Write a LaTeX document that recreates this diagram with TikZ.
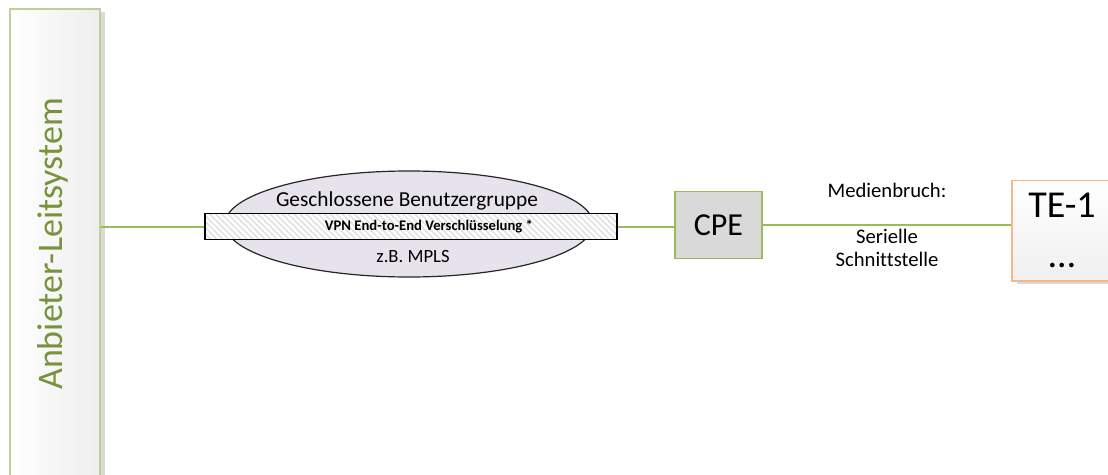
\documentclass[tikz,border=0pt]{standalone}
\usepackage{fontspec}
\setmainfont{Carlito}[Ligatures=CommonOff]
\usetikzlibrary{shapes.geometric,patterns.meta,shadows}
\definecolor{olivgruen}{HTML}{9BBB59}
\definecolor{hellgruen}{HTML}{BCD09A}
\definecolor{textgruen}{HTML}{77933C}
\definecolor{hellorange}{HTML}{F5B888}
\definecolor{lavendel}{HTML}{E6E3EC}
\tikzset{
  verbindung/.style={draw=olivgruen, line width=1.5pt},
  kasten/.style={rectangle, inner sep=0pt},
  schatten/.style={drop shadow={shadow xshift=3.5pt, shadow yshift=-2.5pt, fill=black!15, opacity=1}}
}
\begin{document}
\begin{tikzpicture}[x=0.75pt, y=-0.75pt]
                \useasboundingbox (0,0) rectangle (1108,475);
                \clip (0,0) rectangle (1108,475);
                % Leitsystem
                \node[kasten, schatten, draw=hellgruen, line width=1pt, left color=white, right color=black!7,
                      minimum width=67.5pt, minimum height=361pt] (ls) at (55,249.5) {};
                \node[rotate=90, text=textgruen, font=\fontsize{27}{32}\selectfont] (lstext) at (53,244) {Anbieter-Leitsystem};
                % Benutzergruppe
                \node[ellipse, draw=black!85, line width=0.9pt, fill=lavendel,
                      minimum width=276pt, minimum height=79.5pt] (bg) at (409,224) {};
                \node[font=\fontsize{16}{19}\selectfont] (bgtext) at (407,201) {Geschlossene Benutzergruppe};
                \node[font=\fontsize{14}{16}\selectfont] (mpls) at (413,257) {z.B. MPLS};
                % VPN
                \node[kasten, draw=black, line width=0.9pt, preaction={fill=white},
                      pattern={Lines[angle=-45, distance=3.2pt, line width=1.3pt]}, pattern color=black!11,
                      minimum width=309pt, minimum height=20pt] (vpn) at (411,226.5) {};
                \node[font=\fontsize{11}{13}\selectfont\bfseries] (vpntext) at (429,226) {VPN End-to-End Verschlüsselung *};
                % CPE
                \node[kasten, draw=olivgruen, line width=1.2pt, fill=black!15, minimum width=65pt, minimum height=50pt,
                      font=\fontsize{24}{28}\selectfont] (cpe) at (718.5,225) {CPE};
                % TE
                \node[kasten, schatten, draw=hellorange, line width=1pt, top color=white, bottom color=black!6,
                      minimum width=75pt, minimum height=75.5pt, align=center,
                      font=\fontsize{28.5}{38}\selectfont] (te) at (1062,230.5) {TE-1\\\ldots};
                % Verbindungen
                \draw[verbindung] (ls.east |- vpn.west) -- (vpn.west);
                \draw[verbindung] (vpn.east) -- (vpn.east -| cpe.west);
                \draw[verbindung] (cpe.east) -- (cpe.east -| te.west);
                % Medienbruch
                \node[font=\fontsize{15.5}{18}\selectfont] (mb) at (887,190) {Medienbruch:};
                \node[align=center, font=\fontsize{15.5}{17}\selectfont] (sst) at (887,248) {Serielle\\Schnittstelle};
\end{tikzpicture}
\end{document}
